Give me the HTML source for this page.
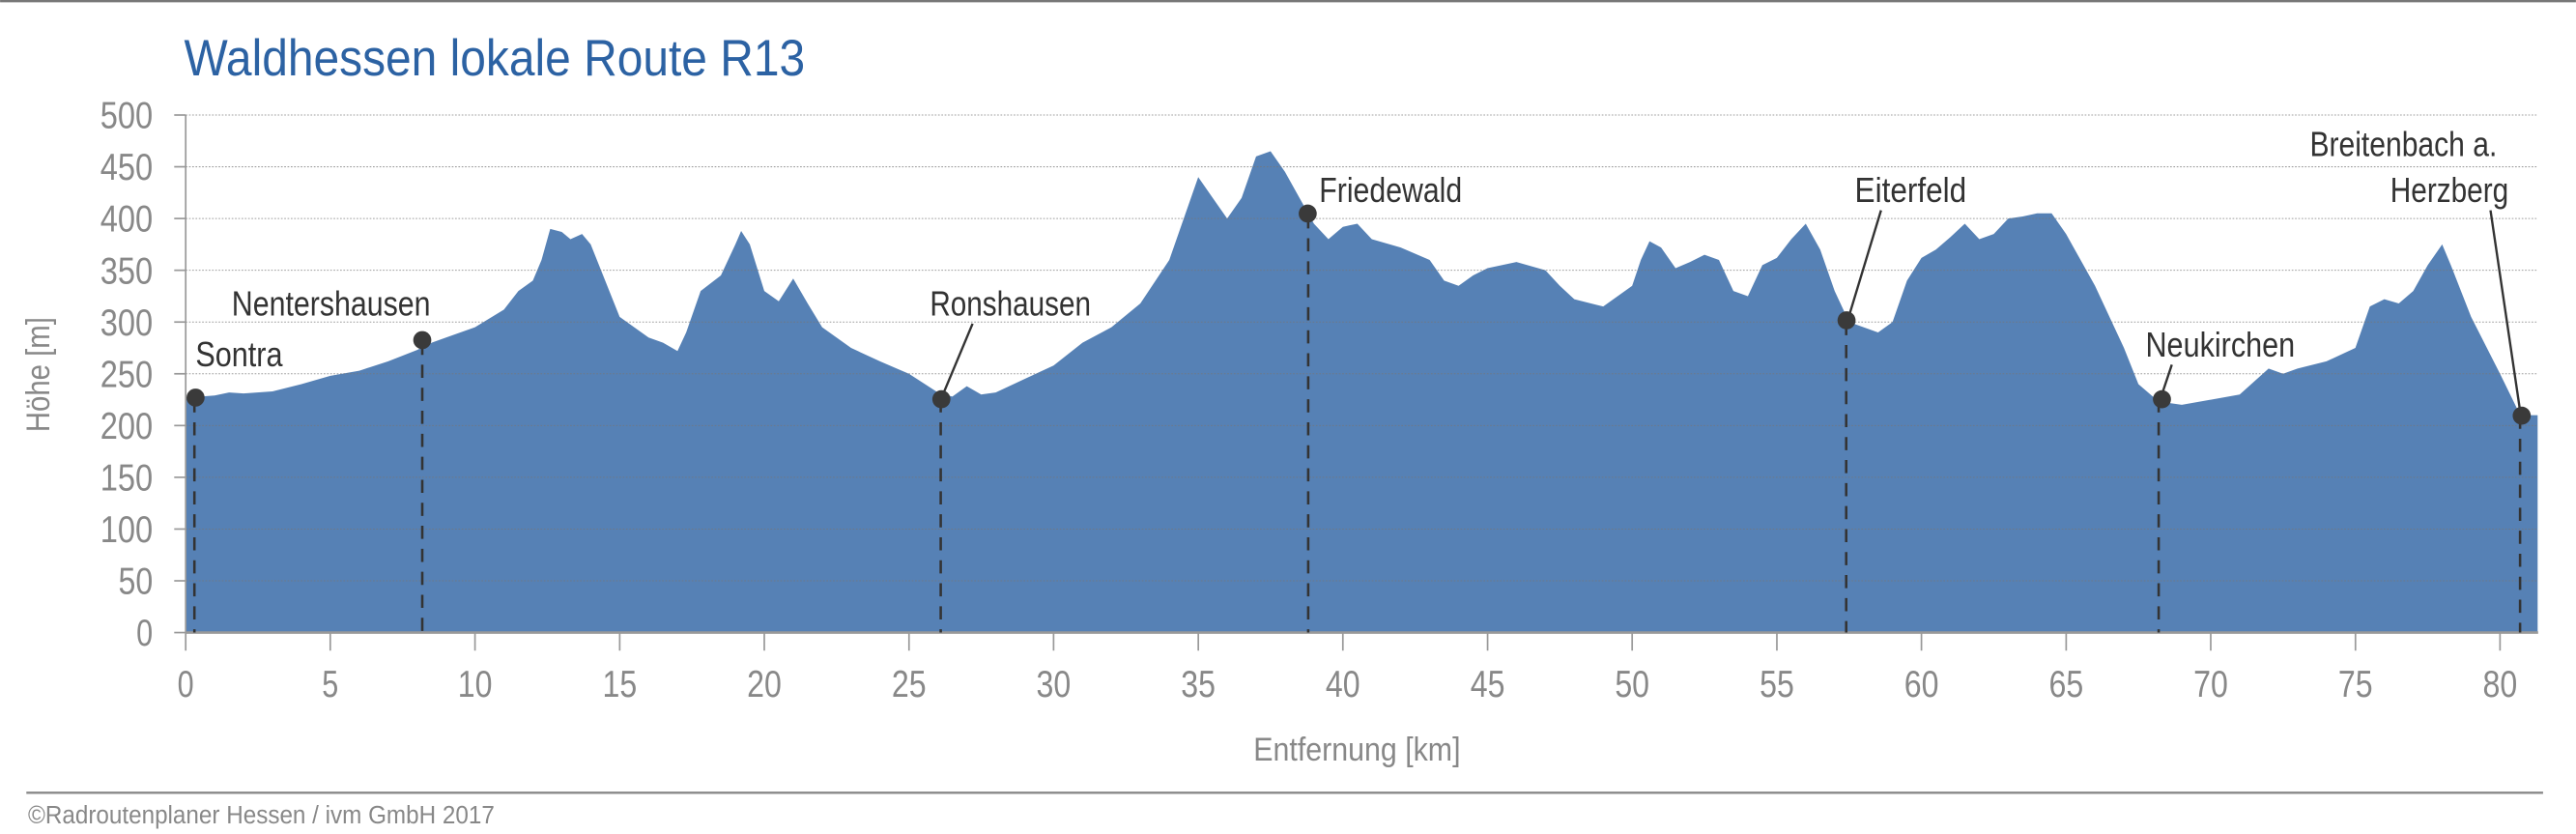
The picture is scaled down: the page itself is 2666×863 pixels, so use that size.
<!DOCTYPE html>
<html><head><meta charset="utf-8"><style>
html,body{margin:0;padding:0;background:#fff;}
svg{display:block;}
text{font-family:"Liberation Sans Narrow","Liberation Sans",sans-serif;}
</style></head><body>
<svg width="2666" height="863" viewBox="0 0 1568 507.6" xmlns="http://www.w3.org/2000/svg">
<line x1="0" y1="0.7" x2="1568" y2="0.7" stroke="#777" stroke-width="1.4"/>
<text x="112" y="46" font-size="31" fill="#2c62a3" textLength="378" lengthAdjust="spacingAndGlyphs">Waldhessen lokale Route R13</text>
<g transform="translate(113,385) scale(17.61,-0.63)">
<path fill="#5681b5" d="M0,0 L0,226 0.5,228 1,229 1.5,232 2,231 3,233 4,240 5,248 6,253 7,262 8,273 8.5,280 9,285 10,295 11,312 11.5,330 12,340 12.3,360 12.6,390 13,387 13.3,380 13.7,385 14,375 14.5,340 15,305 16,285 16.5,280 17,272 17.3,290 17.8,330 18.5,345 19,375 19.2,388 19.5,375 20,330 20.5,320 21,342 21.5,318 22,295 23,275 24,262 25,250 26,232 26.5,228 27,238 27.5,230 28,232 29,245 30,258 31,280 32,295 33,318 34,360 34.5,400 35,440 35.5,420 36,400 36.5,420 37,460 37.5,465 38,445 38.5,420 39,395 39.5,380 40,392 40.5,395 41,380 42,372 43,360 43.5,340 44,335 44.5,345 45,352 46,358 47,350 47.5,335 48,322 49,315 50,335 50.3,360 50.6,378 51,372 51.5,352 52,358 52.5,365 53,360 53.5,330 54,325 54.5,355 55,362 55.5,380 56,395 56.5,370 57,330 57.5,300 58.5,290 59,300 59.5,340 60,362 60.5,370 61,382 61.5,395 62,380 62.5,385 63,400 63.5,402 64,405 64.5,405 65,385 66,335 67,275 67.5,240 68,228 68.5,222 69,220 70,225 71,230 72,255 72.5,250 73,255 74,262 75,275 75.5,315 76,322 76.5,318 77,330 77.5,355 78,375 78.3,355 79,305 80,250 80.7,210 81.3,210 81.3,0 Z"/>
</g>
<g stroke="#777" stroke-width="0.6" stroke-dasharray="1,1" opacity="0.7">
<line x1="113" y1="70" x2="1545" y2="70"/><line x1="113" y1="101.5" x2="1545" y2="101.5"/>
<line x1="113" y1="133" x2="1545" y2="133"/><line x1="113" y1="164.5" x2="1545" y2="164.5"/>
<line x1="113" y1="196" x2="1545" y2="196"/><line x1="113" y1="227.5" x2="1545" y2="227.5"/>
<line x1="113" y1="259" x2="1545" y2="259"/><line x1="113" y1="290.5" x2="1545" y2="290.5"/>
<line x1="113" y1="322" x2="1545" y2="322"/><line x1="113" y1="353.5" x2="1545" y2="353.5"/>
</g>
<g stroke="#999" stroke-width="1">
<line x1="113" y1="70" x2="113" y2="385"/>
<line x1="113" y1="385" x2="1545" y2="385" stroke-width="1.5"/>
<line x1="106" y1="70" x2="113" y2="70"/><line x1="106" y1="101.5" x2="113" y2="101.5"/><line x1="106" y1="133" x2="113" y2="133"/><line x1="106" y1="164.5" x2="113" y2="164.5"/><line x1="106" y1="196" x2="113" y2="196"/><line x1="106" y1="227.5" x2="113" y2="227.5"/><line x1="106" y1="259" x2="113" y2="259"/><line x1="106" y1="290.5" x2="113" y2="290.5"/><line x1="106" y1="322" x2="113" y2="322"/><line x1="106" y1="353.5" x2="113" y2="353.5"/><line x1="106" y1="385" x2="113" y2="385"/>
<line x1="113" y1="385" x2="113" y2="396"/><line x1="201" y1="385" x2="201" y2="396"/><line x1="289.1" y1="385" x2="289.1" y2="396"/><line x1="377.2" y1="385" x2="377.2" y2="396"/><line x1="465.2" y1="385" x2="465.2" y2="396"/><line x1="553.3" y1="385" x2="553.3" y2="396"/><line x1="641.3" y1="385" x2="641.3" y2="396"/><line x1="729.4" y1="385" x2="729.4" y2="396"/><line x1="817.4" y1="385" x2="817.4" y2="396"/><line x1="905.5" y1="385" x2="905.5" y2="396"/><line x1="993.5" y1="385" x2="993.5" y2="396"/><line x1="1081.6" y1="385" x2="1081.6" y2="396"/><line x1="1169.6" y1="385" x2="1169.6" y2="396"/><line x1="1257.7" y1="385" x2="1257.7" y2="396"/><line x1="1345.7" y1="385" x2="1345.7" y2="396"/><line x1="1433.8" y1="385" x2="1433.8" y2="396"/><line x1="1521.8" y1="385" x2="1521.8" y2="396"/>
</g>
<g font-size="23" fill="#888" lengthAdjust="spacingAndGlyphs">
<text x="61" y="78" textLength="32" lengthAdjust="spacingAndGlyphs">500</text><text x="61" y="109.5" textLength="32" lengthAdjust="spacingAndGlyphs">450</text><text x="61" y="141" textLength="32" lengthAdjust="spacingAndGlyphs">400</text><text x="61" y="172.5" textLength="32" lengthAdjust="spacingAndGlyphs">350</text><text x="61" y="204" textLength="32" lengthAdjust="spacingAndGlyphs">300</text><text x="61" y="235.5" textLength="32" lengthAdjust="spacingAndGlyphs">250</text><text x="61" y="267" textLength="32" lengthAdjust="spacingAndGlyphs">200</text><text x="61" y="298.5" textLength="32" lengthAdjust="spacingAndGlyphs">150</text><text x="61" y="330" textLength="32" lengthAdjust="spacingAndGlyphs">100</text><text x="72" y="361.5" textLength="21" lengthAdjust="spacingAndGlyphs">50</text><text x="83" y="393" textLength="10" lengthAdjust="spacingAndGlyphs">0</text>
</g>
<g font-size="23" fill="#888">
<text x="108" y="424" textLength="10" lengthAdjust="spacingAndGlyphs">0</text><text x="196" y="424" textLength="10" lengthAdjust="spacingAndGlyphs">5</text>
<text x="278.6" y="424" textLength="21" lengthAdjust="spacingAndGlyphs">10</text><text x="366.7" y="424" textLength="21" lengthAdjust="spacingAndGlyphs">15</text><text x="454.7" y="424" textLength="21" lengthAdjust="spacingAndGlyphs">20</text><text x="542.8" y="424" textLength="21" lengthAdjust="spacingAndGlyphs">25</text><text x="630.8" y="424" textLength="21" lengthAdjust="spacingAndGlyphs">30</text><text x="718.9" y="424" textLength="21" lengthAdjust="spacingAndGlyphs">35</text><text x="806.9" y="424" textLength="21" lengthAdjust="spacingAndGlyphs">40</text><text x="895" y="424" textLength="21" lengthAdjust="spacingAndGlyphs">45</text><text x="983" y="424" textLength="21" lengthAdjust="spacingAndGlyphs">50</text><text x="1071.1" y="424" textLength="21" lengthAdjust="spacingAndGlyphs">55</text><text x="1159.1" y="424" textLength="21" lengthAdjust="spacingAndGlyphs">60</text><text x="1247.2" y="424" textLength="21" lengthAdjust="spacingAndGlyphs">65</text><text x="1335.2" y="424" textLength="21" lengthAdjust="spacingAndGlyphs">70</text><text x="1423.3" y="424" textLength="21" lengthAdjust="spacingAndGlyphs">75</text><text x="1511.3" y="424" textLength="21" lengthAdjust="spacingAndGlyphs">80</text>
<text x="763" y="463" font-size="20" textLength="126" lengthAdjust="spacingAndGlyphs">Entfernung [km]</text>
<text transform="translate(30,263) rotate(-90)" font-size="20" textLength="70" lengthAdjust="spacingAndGlyphs">Höhe [m]</text>
</g>
<g stroke="#333" stroke-width="1.5" stroke-dasharray="8,6">
<line x1="118.3" y1="243" x2="118.3" y2="385"/>
<line x1="257" y1="208" x2="257" y2="385"/>
<line x1="572.6" y1="243" x2="572.6" y2="385"/>
<line x1="796.3" y1="131" x2="796.3" y2="385"/>
<line x1="1123.8" y1="196" x2="1123.8" y2="385"/>
<line x1="1314" y1="243" x2="1314" y2="385"/>
<line x1="1534" y1="253" x2="1534" y2="385"/>
</g>
<g stroke="#333" stroke-width="1.4">
<line x1="592" y1="197" x2="574" y2="240"/>
<line x1="1145" y1="128" x2="1125" y2="194"/>
<line x1="1322" y1="222" x2="1316" y2="240"/>
<line x1="1516" y1="128" x2="1534" y2="250"/>
</g>
<g fill="#3a3a3a">
<circle cx="119" cy="242" r="5.5"/><circle cx="257" cy="207" r="5.5"/><circle cx="573" cy="243" r="5.5"/><circle cx="796" cy="130" r="5.5"/><circle cx="1124" cy="195" r="5.5"/><circle cx="1316" cy="243" r="5.5"/><circle cx="1535" cy="253" r="5.5"/>
</g>
<g font-size="21" fill="#333">
<text x="119" y="223" textLength="53" lengthAdjust="spacingAndGlyphs">Sontra</text>
<text x="141" y="192" textLength="121" lengthAdjust="spacingAndGlyphs">Nentershausen</text>
<text x="566" y="192" textLength="98" lengthAdjust="spacingAndGlyphs">Ronshausen</text>
<text x="803" y="123" textLength="87" lengthAdjust="spacingAndGlyphs">Friedewald</text>
<text x="1129" y="123" textLength="68" lengthAdjust="spacingAndGlyphs">Eiterfeld</text>
<text x="1306" y="217" textLength="91" lengthAdjust="spacingAndGlyphs">Neukirchen</text>
<text x="1406" y="95" textLength="114" lengthAdjust="spacingAndGlyphs">Breitenbach a.</text>
<text x="1455" y="123" textLength="72" lengthAdjust="spacingAndGlyphs">Herzberg</text>
</g>
<line x1="16" y1="482.5" x2="1548" y2="482.5" stroke="#888" stroke-width="1.4"/>
<text x="17" y="501" font-size="15" fill="#888" textLength="284" lengthAdjust="spacingAndGlyphs">©Radroutenplaner Hessen / ivm GmbH 2017</text>
</svg>
</body></html>
